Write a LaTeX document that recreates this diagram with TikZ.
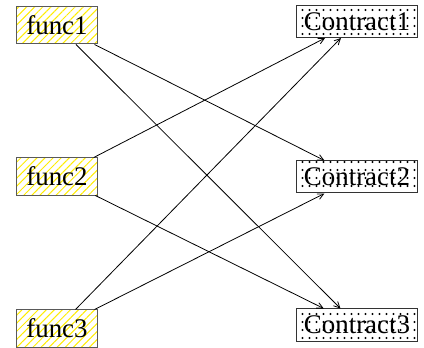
\documentclass[tikz,border=0pt]{standalone}
\usepackage{fontspec}
\setmainfont{Liberation Serif}
\usetikzlibrary{arrows.meta,positioning,patterns.meta}

% sparse dot grid, wider than tall
\pgfdeclarepattern{
	name=contractdots,
	type=uncolored,
	bottom left={\pgfpoint{-1.2bp}{-1.2bp}},
	top right={\pgfpoint{5.8bp}{6.8bp}},
	tile size={\pgfpoint{7bp}{8bp}},
	code={\pgfpathcircle{\pgfpoint{1.5bp}{2bp}}{1.05bp}\pgfusepath{fill}}
}

\tikzset{
	funcbox/.style={draw=black!65,line width=1bp,minimum width=80bp,minimum height=37bp,inner sep=0pt,
		pattern={Lines[angle=45,distance=5.7bp,line width=1bp]},pattern color=yellow!85!orange},
	contractbox/.style={draw=black!80,line width=1bp,minimum width=120bp,minimum height=32bp,inner sep=0pt,
		pattern=contractdots,pattern color=black},
	link/.style={draw=black,line width=0.8bp,-{Straight Barb[length=6bp,width=6bp]}}
}

\begin{document}
\begin{tikzpicture}[x=1bp,y=1bp,font=\fontsize{27}{29}\selectfont]
			\useasboundingbox (0,0) rectangle (424,348);
			% callers on the left
			\node[funcbox] (f1) at (57,322.5) {func1};
			\node[funcbox] (f2) at (57,171.5) {func2};
			\node[funcbox] (f3) at (57,19.5) {func3};
			% contracts on the right
			\node[contractbox] (c1) at (357,326.5) {Contract1};
			\node[contractbox] (c2) at (357,171) {Contract2};
			\node[contractbox] (c3) at (357,23) {Contract3};
			\foreach \a/\b in {f1/c2,f1/c3,f2/c1,f2/c3,f3/c1,f3/c2}
				\draw[link] (\a) -- (\b);
		\end{tikzpicture}
\end{document}
